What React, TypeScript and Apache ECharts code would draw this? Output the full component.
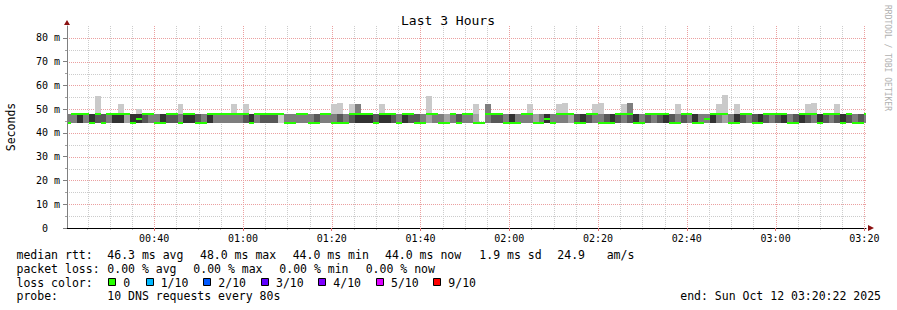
import { useEffect, useRef } from "react";
import * as echarts from "echarts";

// ---- time axis (minutes after midnight) ----
const T_START = 20 + 22 / 60; // 00:20:22
const T_END = 200 + 22 / 60; // 03:20:22
const STEP_MIN = 80 / 60; // one probe every 80 s
const FIRST_STEP_START = 19.93;

// ---- data: one entry per 80 s step ----
const medianMs = [
  44, 48, 48, 48, 44, 48, 44, 48, 48, 48,
  48, 44, 46, 48, 48, 44, 44, 48, 48, 44,
  48, 48, 44, 44, 48, 48, 48, 48, 48, 48,
  48, 44, 48, 48, 48, 48, 48, 44, 44, 48,
  48, 44, 44, 48, 48, 44, 44, 44, 48, 48,
  48, 48, 44, 48, 48, 48, 44, 48, 48, 44,
  44, 48, 48, 44, 44, 48, 44, 48, 48, 44,
  44, 48, 48, 48, 44, 44, 44, 48, 48, 44,
  44, 46, 44, 48, 48, 48, 44, 44, 48, 48,
  44, 44, 44, 48, 48, 48, 44, 44, 48, 48,
  48, 48, 44, 44, 48, 48, 44, 44, 46, 48,
  48, 48, 44, 44, 48, 48, 44, 44, 48, 48,
  48, 48, 44, 44, 48, 48, 48, 44, 48, 48,
  48, 44, 48, 44, 44, 48,
];

// darkest smoke layer spanning the 44–48 ms band (0 = none, 5 = darkest)
const bandShade = [
  3, 3, 5, 3, 5, 4, 4, 3, 5, 5,
  2, 5, 5, 4, 3, 3, 5, 4, 4, 3,
  5, 5, 4, 3, 5, 3, 3, 3, 3, 3,
  4, 5, 3, 4, 4, 4, 1, 3, 3, 3,
  3, 3, 4, 3, 3, 3, 4, 3, 4, 5,
  5, 5, 4, 5, 5, 4, 3, 5, 4, 4,
  3, 2, 3, 3, 2, 3, 4, 3, 3, 2,
  0, 3, 4, 4, 3, 5, 3, 3, 3, 2,
  3, 5, 3, 3, 3, 2, 4, 5, 4, 3,
  3, 4, 5, 4, 3, 4, 5, 3, 4, 3,
  4, 5, 4, 3, 4, 3, 5, 3, 3, 5,
  3, 2, 3, 5, 4, 3, 4, 5, 4, 3,
  4, 5, 3, 4, 5, 4, 3, 5, 4, 3,
  4, 5, 4, 3, 4, 3,
];
const BAND_LOW_MS = 44;
const BAND_HIGH_MS = 48;

// slowest ping of the step when above the band
const spikeStep = [5, 9, 12, 19, 28, 30, 45, 46, 48, 49, 53, 61, 69, 71, 78, 83, 84, 89, 90, 94, 95, 103, 110, 111, 113, 125, 126, 130];
const spikeMs = [55.5, 52, 50, 52, 52, 52, 52.3, 52.5, 52, 52.3, 52, 55.5, 52, 52, 52, 52, 52.5, 52, 52.5, 52, 52.5, 52, 52, 56, 52, 52, 52.5, 52];
// second slowest ping when above the band
const spike2Step = [49, 71, 95];
const spike2Ms = [52.3, 52, 52.5];

// ---- axes ----
const xMajorTicks = [40, 60, 80, 100, 120, 140, 160, 180, 200];
const xMinorTicks = [25, 30, 35, 45, 50, 55, 65, 70, 75, 85, 90, 95, 105, 110, 115, 125, 130, 135, 145, 150, 155, 165, 170, 175, 185, 190, 195];
const yMajorTicks = [0, 10, 20, 30, 40, 50, 60, 70, 80];
const yMinorTicks = [5, 15, 25, 35, 45, 55, 65, 75];
const Y_MAX = 85;

// ---- legend texts ----
const rttStats = ["median rtt:", "46.3 ms avg", "48.0 ms max", "44.0 ms min", "44.0 ms now", "1.9 ms sd", "24.9", "am/s"];
const lossStats = ["packet loss:", "0.00 % avg", "0.00 % max", "0.00 % min", "0.00 % now"];
const lossLabels = ["0", "1/10", "2/10", "3/10", "4/10", "5/10", "9/10"];
const lossColors = ["#26ff00", "#00b8ff", "#0059ff", "#5e00ff", "#7e00ff", "#dd00ff", "#ff0000"];

const SHADES = ["#ffffff", "#cacaca", "#a4a4a4", "#7e7e7e", "#585858", "#323232"];
const MONO = "'DejaVu Sans Mono', monospace";
const MAJOR_GRID = "#eba0a0";
const MINOR_GRID = "#cccccc";

function fmtTime(v: number) {
  const h = Math.floor(v / 60);
  const m = Math.round(v - h * 60);
  return String(h).padStart(2, "0") + ":" + String(m).padStart(2, "0");
}

function vGrid(color: string) {
  return (params: any, api: any) => {
    const cs = params.coordSys;
    const x = Math.round(api.coord([api.value(0), 0])[0]) + 0.5;
    return { type: "line", shape: { x1: x, y1: cs.y, x2: x, y2: cs.y + cs.height }, style: { stroke: color, lineWidth: 1, lineDash: [1, 1] } };
  };
}
function hGrid(color: string) {
  return (params: any, api: any) => {
    const cs = params.coordSys;
    const y = Math.round(api.coord([T_START, api.value(1)])[1]) + 0.5;
    return { type: "line", shape: { x1: cs.x, y1: y, x2: cs.x + cs.width, y2: y }, style: { stroke: color, lineWidth: 1, lineDash: [1, 1] } };
  };
}

export default function App() {
  const ref = useRef<HTMLDivElement>(null);
  useEffect(() => {
    document.body.style.margin = "0";
    const chart = echarts.init(ref.current!, null, { renderer: "svg" });

    const data = medianMs.map((med, k) => {
      const t0 = FIRST_STEP_START + k * STEP_MIN;
      const si = spikeStep.indexOf(k);
      const s2 = spike2Step.indexOf(k);
      return [t0, t0 + STEP_MIN, bandShade[k], med, si >= 0 ? spikeMs[si] : 0, s2 >= 0 ? spike2Ms[s2] : 0];
    });

    const renderItem = (_params: any, api: any) => {
      const t0 = api.value(0);
      const t1 = api.value(1);
      const shade = api.value(2);
      const med = api.value(3);
      const top1 = api.value(4);
      const top2 = api.value(5);
      const xL = Math.round(api.coord([t0, 0])[0]);
      const xR = Math.round(api.coord([t1, 0])[0]);
      const w = xR - xL;
      const yLow = Math.round(api.coord([t0, BAND_LOW_MS])[1]);
      const yHigh = Math.round(api.coord([t0, BAND_HIGH_MS])[1]);
      const children: any[] = [];
      if (top1 > BAND_HIGH_MS) {
        const y = Math.round(api.coord([t0, top1])[1]);
        children.push({ type: "rect", shape: { x: xL, y, width: w, height: yLow - y }, style: { fill: SHADES[1] } });
      }
      if (top2 > BAND_HIGH_MS) {
        const y = Math.round(api.coord([t0, top2])[1]);
        children.push({ type: "rect", shape: { x: xL, y, width: w, height: yLow - y }, style: { fill: SHADES[3] } });
      }
      if (shade > 0) {
        children.push({ type: "rect", shape: { x: xL, y: yHigh, width: w, height: yLow - yHigh }, style: { fill: SHADES[shade] } });
      }
      const ym = Math.round(api.coord([t0, med])[1]);
      children.push({ type: "rect", shape: { x: xL, y: ym - 1, width: w, height: 2 }, style: { fill: lossColors[0] } });
      return { type: "group", children };
    };

    const baseText = { fontFamily: MONO, fontSize: 11.5, fill: "#000" };
    const graphics: any[] = [];
    graphics.push({ type: "text", x: 448, y: 20, style: { text: "Last 3 Hours", font: `13px ${MONO}`, fill: "#000", align: "center", verticalAlign: "middle" } });
    graphics.push({ type: "text", x: 11, y: 127, rotation: Math.PI / 2, style: { text: "Seconds", ...baseText, align: "center", verticalAlign: "middle" } });
    graphics.push({ type: "text", x: 887, y: 5, rotation: -Math.PI / 2, style: { text: "RRDTOOL / TOBI OETIKER", fontFamily: MONO, fontSize: 8, fill: "#b0b0b0", align: "left", verticalAlign: "middle" } });

    const rttX = [16.5, 107.3, 200, 292.7, 385, 479.3, 557.3, 606.7];
    rttStats.forEach((s, i) => graphics.push({ type: "text", x: rttX[i], y: 255, style: { text: s, ...baseText, verticalAlign: "middle" } }));
    const lossX = [16.5, 107.3, 193.3, 279.3, 365.7];
    lossStats.forEach((s, i) => graphics.push({ type: "text", x: lossX[i], y: 268.5, style: { text: s, ...baseText, verticalAlign: "middle" } }));
    graphics.push({ type: "text", x: 16.5, y: 282.5, style: { text: "loss color:", ...baseText, verticalAlign: "middle" } });
    const boxX = [108.3, 145.7, 203.3, 261, 318.3, 376, 433.3];
    lossLabels.forEach((s, i) => {
      graphics.push({ type: "rect", shape: { x: Math.round(boxX[i]) + 0.5, y: 278.5, width: 7, height: 7 }, style: { fill: lossColors[i], stroke: "#000", lineWidth: 1 } });
      graphics.push({ type: "text", x: boxX[i] + 15, y: 282.5, style: { text: s, ...baseText, verticalAlign: "middle" } });
    });
    graphics.push({ type: "text", x: 16.5, y: 296, style: { text: "probe:", ...baseText, verticalAlign: "middle" } });
    graphics.push({ type: "text", x: 107.3, y: 296, style: { text: "10 DNS requests every 80s", ...baseText, verticalAlign: "middle" } });
    graphics.push({ type: "text", x: 881, y: 296, style: { text: "end: Sun Oct 12 03:20:22 2025", ...baseText, align: "right", verticalAlign: "middle" } });

    chart.setOption({
      animation: false,
      backgroundColor: "#ffffff",
      grid: { left: 67, top: 26, width: 799, height: 202, containLabel: false },
      xAxis: [
        {
          type: "value", min: T_START, max: T_END, position: "bottom", z: 5,
          axisLine: { show: true, lineStyle: { color: "#000", width: 1 } },
          axisTick: { show: true, customValues: xMajorTicks, length: 3, lineStyle: { color: "#e07070" } },
          axisLabel: { show: true, customValues: xMajorTicks, formatter: (v: number) => fmtTime(v), fontFamily: MONO, fontSize: 10, color: "#000", margin: 5 },
          splitLine: { show: false },
        },
        {
          type: "value", min: T_START, max: T_END, position: "bottom",
          axisLine: { show: false },
          axisTick: { show: true, customValues: xMinorTicks, length: 2, lineStyle: { color: "#c0c0c0" } },
          axisLabel: { show: false },
          splitLine: { show: false },
        },
      ],
      yAxis: [
        {
          type: "value", min: 0, max: Y_MAX, z: 5,
          axisLine: { show: true, lineStyle: { color: "#808080", width: 1 } },
          axisTick: { show: true, customValues: yMajorTicks, length: 4, lineStyle: { color: "#808080" } },
          axisLabel: {
            show: true, customValues: yMajorTicks, margin: 7,
            formatter: (v: number) => (v === 0 ? "{z|0}" : v + " m"),
            fontFamily: MONO, fontSize: 10, color: "#000",
            rich: { z: { fontFamily: MONO, fontSize: 10, color: "#000", padding: [0, 12, 0, 0] } },
          },
          splitLine: { show: false },
        },
        {
          type: "value", min: 0, max: Y_MAX, position: "left",
          axisLine: { show: false },
          axisTick: { show: true, customValues: yMinorTicks, length: 2, lineStyle: { color: "#a0a0a0" } },
          axisLabel: { show: false },
          splitLine: { show: false },
        },
      ],
      series: [
        { type: "custom", z: 1, silent: true, clip: false, renderItem: vGrid(MINOR_GRID), data: xMinorTicks.map((v) => [v, 0]) },
        { type: "custom", z: 1, silent: true, clip: false, renderItem: hGrid(MINOR_GRID), data: yMinorTicks.map((v) => [T_START, v]) },
        { type: "custom", z: 1, silent: true, clip: false, renderItem: vGrid(MAJOR_GRID), data: xMajorTicks.map((v) => [v, 0]) },
        { type: "custom", z: 1, silent: true, clip: false, renderItem: hGrid(MAJOR_GRID), data: yMajorTicks.filter((v) => v > 0).map((v) => [T_START, v]) },
        {
          type: "custom",
          z: 2,
          clip: true,
          renderItem,
          data,
          encode: { x: [0, 1], y: [3, 4] },
          silent: true,
        },
      ],
      graphic: graphics,
    });

    // axis arrows
    const pEnd = chart.convertToPixel({ xAxisIndex: 0, yAxisIndex: 0 }, [T_END, 0]) as number[];
    const pTop = chart.convertToPixel({ xAxisIndex: 0, yAxisIndex: 0 }, [T_START, Y_MAX]) as number[];
    chart.setOption({
      graphic: [
        ...graphics,
        { type: "polygon", shape: { points: [[pEnd[0] + 2, pEnd[1] - 3], [pEnd[0] + 8, pEnd[1]], [pEnd[0] + 2, pEnd[1] + 3]] }, style: { fill: "#8b1010" } },
        { type: "polygon", shape: { points: [[pTop[0] - 3, pTop[1] - 1], [pTop[0], pTop[1] - 6], [pTop[0] + 3, pTop[1] - 1]] }, style: { fill: "#8b1010" } },
      ],
    });

    return () => chart.dispose();
  }, []);
  return <div ref={ref} style={{ width: 897, height: 310, position: "absolute", left: 0, top: 0 }} />;
}
